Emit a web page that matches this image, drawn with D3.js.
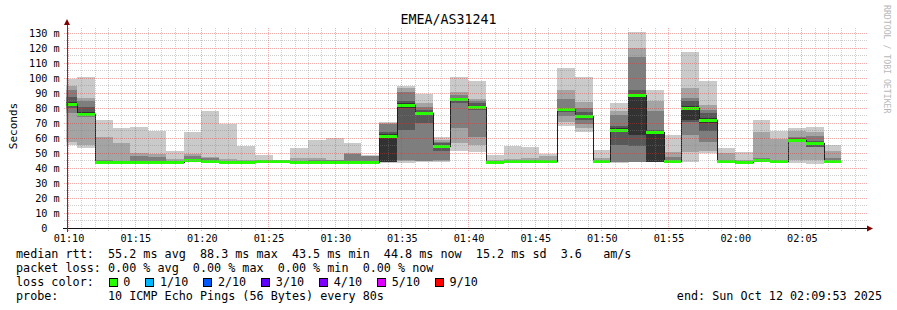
<!DOCTYPE html>
<html><head><meta charset="utf-8">
<script src="https://cdn.jsdelivr.net/npm/d3@7"></script>
<style>
html,body{margin:0;padding:0;background:#fff;}
svg{display:block;font-family:"DejaVu Sans Mono",monospace;}
</style></head><body>
<svg id="c" width="897" height="310"></svg>
<script>
// ---------------- data ----------------
const chartTitle = "EMEA/AS31241";
const endTime = new Date(2025, 9, 12, 2, 9, 53);
const firstBarEnd = new Date(2025, 9, 12, 1, 10, 40);
const stepSeconds = 80;
const median = [82.5,76.2,44.2,43.8,44.0,44.3,43.8,45.3,44.5,43.9,44.3,44.5,44.5,43.7,44.3,44.3,44.1,44.3,
  61.3,82.2,76.9,54.7,85.8,80.9,44.2,44.5,44.5,44.6,79.3,74.7,44.5,65.3,88.7,64.2,44.7,80.2,71.8,44.7,44.2,
  45.3,44.7,58.9,56.4,44.7];
// ten sorted ping RTTs (ms) per 80 s step
const pings = [
  [55.3,57.0,76.5,79.8,81.0,84.0,87.5,92.0,94.7,99.3],
  [53.5,55.3,73.8,75.0,75.5,77.0,80.9,84.9,86.4,100.7],
  [43.5,43.8,44.0,44.1,44.2,44.3,44.5,45.0,60.9,71.8],
  [43.5,43.6,43.7,43.8,43.8,43.9,44.0,44.3,56.7,66.9],
  [43.6,43.8,44.0,44.0,44.1,44.2,44.4,48.2,50.2,67.5],
  [43.7,43.9,44.0,44.2,44.3,44.4,44.6,47.6,49.5,64.7],
  [43.5,43.6,43.7,43.8,43.8,43.9,44.0,44.5,46.0,51.3],
  [44.0,44.3,44.6,44.9,45.1,45.3,45.6,48.2,49.1,64.0],
  [43.1,43.5,44.0,44.3,44.5,44.6,44.8,46.9,47.5,78.0],
  [43.4,43.6,43.7,43.8,43.9,44.0,44.1,44.4,46.0,69.5],
  [43.8,44.0,44.1,44.2,44.3,44.4,44.5,44.8,45.5,54.9],
  [44.0,44.2,44.3,44.4,44.5,44.6,44.7,44.9,45.3,48.9],
  [44.0,44.2,44.3,44.4,44.5,44.6,44.7,44.8,45.0,45.5],
  [43.0,43.3,43.4,43.5,43.6,43.7,43.9,44.5,46.4,53.3],
  [43.8,44.0,44.1,44.2,44.3,44.4,44.6,45.5,46.7,58.7],
  [43.9,44.0,44.1,44.2,44.3,44.4,44.6,45.0,45.3,60.2],
  [43.6,43.8,43.9,44.0,44.1,44.2,44.4,49.3,49.8,56.9],
  [43.8,44.0,44.1,44.2,44.3,44.4,44.6,48.0,48.3,48.7],
  [43.6,43.8,44.0,44.1,44.3,62.7,64.2,69.3,70.3,70.9],
  [43.6,44.5,45.3,65.3,80.0,83.0,84.9,90.9,93.6,94.9],
  [44.0,44.5,44.9,70.2,75.0,77.5,78.7,80.9,83.6,89.3],
  [44.2,44.5,45.3,51.5,53.5,55.5,56.5,57.5,58.7,60.9],
  [51.6,56.9,66.4,83.1,85.0,86.3,86.9,88.7,90.4,100.4],
  [50.4,55.3,60.9,78.7,80.5,81.5,83.0,84.4,86.0,98.0],
  [43.8,44.0,44.1,44.2,44.2,44.3,44.4,44.6,45.0,48.7],
  [44.0,44.2,44.3,44.4,44.5,44.6,44.7,45.0,45.8,54.9],
  [44.0,44.2,44.3,44.4,44.5,44.6,44.7,45.0,46.4,54.2],
  [44.1,44.3,44.4,44.5,44.6,44.7,44.8,45.2,47.8,49.1],
  [68.0,70.9,74.9,77.1,78.8,79.8,80.2,86.0,92.0,106.4],
  [64.2,66.4,69.3,72.0,73.5,75.5,77.0,80.2,84.2,100.9],
  [43.9,44.1,44.2,44.3,44.4,44.5,44.7,45.0,46.4,52.0],
  [43.6,44.0,44.2,55.3,64.0,66.5,68.0,75.3,78.0,83.6],
  [43.8,44.0,44.2,54.9,62.0,89.5,92.0,114.2,120.2,130.4],
  [43.8,44.0,44.1,44.2,44.3,64.5,65.0,78.0,84.7,92.0],
  [44.0,44.3,44.5,44.6,44.7,44.8,45.0,47.6,50.9,62.0],
  [43.8,50.4,62.0,70.9,72.0,81.0,84.5,86.4,93.1,117.1],
  [49.8,51.0,57.1,64.7,70.0,73.0,76.4,78.7,82.0,98.0],
  [44.2,44.4,44.5,44.6,44.7,44.8,45.0,45.5,49.8,53.1],
  [43.5,43.7,43.8,43.9,44.0,44.1,44.3,44.6,45.5,50.9],
  [44.3,44.6,44.8,45.0,45.2,45.4,45.7,46.5,64.2,71.8],
  [43.8,44.0,44.2,44.4,44.6,44.8,45.0,45.5,59.3,64.7],
  [43.1,45.3,57.0,57.6,58.5,59.2,59.8,60.7,64.7,66.4],
  [42.7,45.3,54.0,54.2,55.5,57.0,58.0,61.0,63.8,67.6],
  [43.0,43.8,44.0,44.2,44.5,44.8,45.2,46.9,51.3,55.3]
];
const yTickValues = [0,10,20,30,40,50,60,70,80,90,100,110,120,130];
const yUnit = "m";
const yLabel = "Seconds";
const smokeGrays = ["#cacaca","#a4a4a4","#7e7e7e","#585858","#323232"];
const lossLabels = ["0","1/10","2/10","3/10","4/10","5/10","9/10"];
const lossColors = ["#26ff00","#00b8ff","#0059ff","#5e00ff","#7e00ff","#dd00ff","#ff0000"];
const legendRtt = "median rtt:  55.2 ms avg  88.3 ms max  43.5 ms min  44.8 ms now  15.2 ms sd  3.6   am/s";
const legendLoss = "packet loss: 0.00 % avg  0.00 % max  0.00 % min  0.00 % now";
const legendLossColor = "loss color:";
const legendProbe = "probe:       10 ICMP Echo Pings (56 Bytes) every 80s";
const legendEnd = "end: Sun Oct 12 02:09:53 2025";
const watermark = "RRDTOOL / TOBI OETIKER";

// ---------------- drawing ----------------
const svg = d3.select("#c");
const startTime = new Date(+endTime - 3600 * 1000);
const X0 = 66.5, X1 = 866.5, YB = 228, YT = 28;
const x = d3.scaleTime().domain([startTime, endTime]).range([X0, X1]);
const y = d3.scaleLinear().domain([0, 133.333]).range([YB, YT]);

const bars = pings.map((p, i) => {
  const end = new Date(+firstBarEnd + i * stepSeconds * 1000);
  const start = new Date(+end - stepSeconds * 1000);
  return {start, end, p, med: median[i]};
});

svg.append("rect").attr("width", 897).attr("height", 310).attr("fill", "#fff");
svg.append("clipPath").attr("id", "plot").append("rect")
  .attr("x", X0).attr("y", YT).attr("width", X1 - X0).attr("height", YB - YT);

const plot = svg.append("g").attr("clip-path", "url(#plot)").attr("shape-rendering", "crispEdges");
// smoke layers
for (let k = 0; k < 5; k++) {
  plot.append("g").selectAll("rect").data(bars).join("rect")
    .attr("x", d => Math.round(x(d.start)))
    .attr("width", d => Math.round(x(d.end)) - Math.round(x(d.start)))
    .attr("y", d => Math.round(y(d.p[9 - k])))
    .attr("height", d => Math.max(1, Math.round(y(d.p[k])) - Math.round(y(d.p[9 - k]))))
    .attr("fill", smokeGrays[k]);
}
// median black step line
const pts = bars.map(d => [Math.round(x(d.start)), Math.round(y(d.med)) + 0.5]);
pts.push([Math.round(x(bars[bars.length - 1].end)), Math.round(y(bars[bars.length - 1].med)) + 0.5]);
plot.append("path").attr("d", d3.line().curve(d3.curveStepAfter)(pts))
  .attr("fill", "none").attr("stroke", "#202020").attr("stroke-width", 1);
// loss-coloured median band
plot.append("g").selectAll("rect").data(bars).join("rect")
  .attr("x", d => Math.round(x(d.start)))
  .attr("width", d => Math.round(x(d.end)) - Math.round(x(d.start)))
  .attr("y", d => Math.round(y(d.med)) - 1)
  .attr("height", 3)
  .attr("fill", lossColors[0]);

// grid (drawn over the data, semi transparent)
const grid = svg.append("g").attr("shape-rendering", "crispEdges");
const minutes = d3.timeMinute.range(d3.timeMinute.ceil(startTime), endTime);
minutes.forEach(t => {
  const major = t.getMinutes() % 5 === 0;
  const xx = Math.round(x(t)) + 0.5;
  grid.append("line").attr("x1", xx).attr("x2", xx).attr("y1", YT).attr("y2", YB + 3)
    .attr("stroke", major ? "rgba(220,50,50,0.4)" : "rgba(130,130,130,0.38)")
    .attr("stroke-dasharray", "1,1");
});
d3.range(5, 135, 5).forEach(v => {
  const major = v % 10 === 0;
  const yy = Math.round(y(v)) + 0.5;
  grid.append("line").attr("x1", X0 - 3).attr("x2", X1 + 1).attr("y1", yy).attr("y2", yy)
    .attr("stroke", major ? "rgba(220,50,50,0.4)" : "rgba(130,130,130,0.38)")
    .attr("stroke-dasharray", "1,1");
});

// axes
svg.append("line").attr("x1", X0 - 4).attr("x2", X1 + 2).attr("y1", YB + 0.5).attr("y2", YB + 0.5)
  .attr("stroke", "#111").attr("shape-rendering", "crispEdges");
svg.append("line").attr("x1", X0 + 0.5).attr("x2", X0 + 0.5).attr("y1", YB + 4).attr("y2", 24)
  .attr("stroke", "#5a3a3a").attr("shape-rendering", "crispEdges");
svg.append("path").attr("d", `M${X1 + 0.5},${YB - 2.5}L${X1 + 6.5},${YB + 0.5}L${X1 + 0.5},${YB + 3.5}Z`).attr("fill", "#7f0000");
svg.append("path").attr("d", `M${X0 - 2.5},${YT - 3}L${X0 + 0.5},${YT - 9}L${X0 + 3.5},${YT - 3}Z`).attr("fill", "#7f0000");

// x tick labels
const xTicks = minutes.filter(t => t.getMinutes() % 5 === 0);
const fmt = d3.timeFormat("%H:%M");
svg.append("g").selectAll("text").data(xTicks).join("text")
  .attr("x", d => x(d) + 1).attr("y", 241.5).attr("text-anchor", "middle")
  .attr("font-size", "10.2px").attr("fill", "#000").text(d => fmt(d));
// y tick labels
const yl = svg.append("g").attr("font-size", "10.2px").attr("fill", "#000");
yl.selectAll("text.n").data(yTickValues).join("text").attr("class", "n")
  .attr("x", 47.5).attr("y", d => y(d) + 3.6).attr("text-anchor", "end").text(d => d);
yl.selectAll("text.u").data(yTickValues.filter(v => v > 0)).join("text").attr("class", "u")
  .attr("x", 53.6).attr("y", d => y(d) + 3.6).text(yUnit);

// y label
svg.append("text").attr("transform", "translate(16.5,126) rotate(-90)")
  .attr("text-anchor", "middle").attr("font-size", "11px").text(yLabel);
// title
svg.append("text").attr("x", 448.5).attr("y", 24).attr("text-anchor", "middle")
  .attr("font-size", "13.3px").text(chartTitle);
// watermark
svg.append("text").attr("transform", "translate(883.5,5) rotate(90)")
  .attr("font-size", "8.2px").attr("fill", "#b8b8b8").text(watermark);

// legend
const lg = svg.append("g").attr("font-size", "11.75px").style("white-space", "pre");
[[legendRtt, 258.3], [legendLoss, 272.3], [legendLossColor, 286.3], [legendProbe, 300.2]].forEach(([t, yy]) => {
  lg.append("text").attr("x", 16).attr("y", yy).attr("xml:space", "preserve").text(t);
});
let lx = 108.7;
lossLabels.forEach((lab, i) => {
  lg.append("rect").attr("x", lx + 0.5).attr("y", 278.5).attr("width", 8).attr("height", 8)
    .attr("fill", lossColors[i]).attr("stroke", "#000").attr("stroke-width", 1).attr("shape-rendering", "crispEdges");
  lg.append("text").attr("x", lx + 14.6).attr("y", 286.3).text(lab);
  lx += 14.8 + lab.length * 7.08 + 14.8;
});
lg.append("text").attr("x", 882).attr("y", 300.2).attr("text-anchor", "end").text(legendEnd);
</script>
</body></html>
